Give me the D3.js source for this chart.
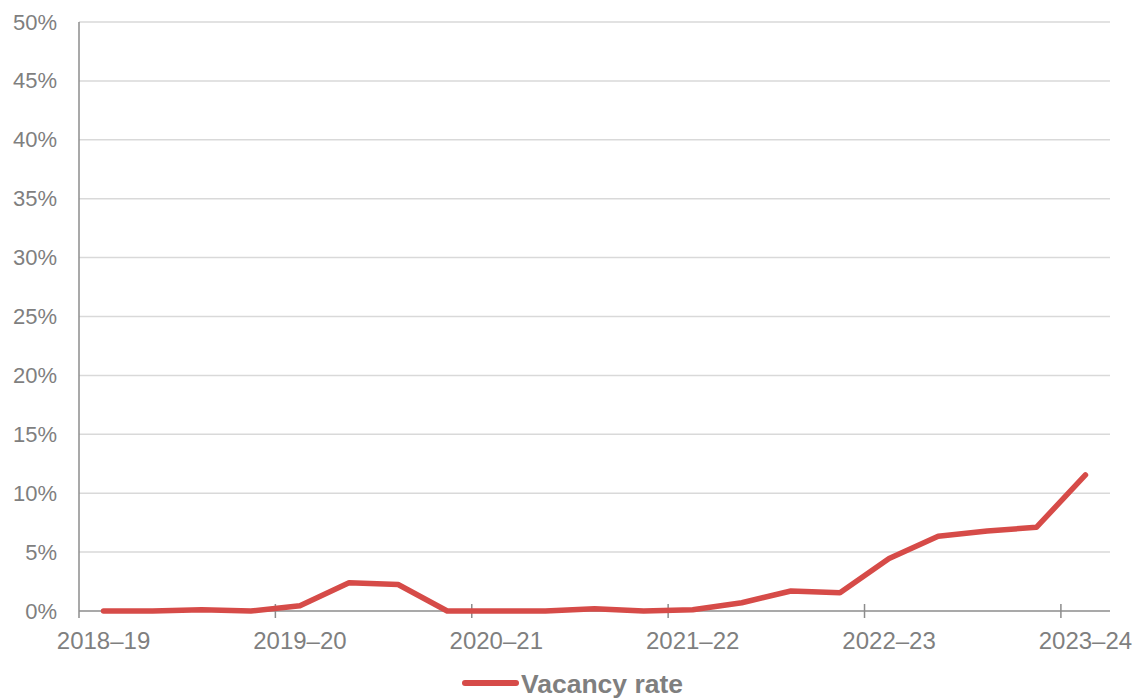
<!DOCTYPE html>
<html>
<head>
<meta charset="utf-8">
<script src="https://cdn.jsdelivr.net/npm/d3@7/dist/d3.min.js"></script>
<style>
  html, body { margin: 0; padding: 0; background: #ffffff; }
  svg { display: block; font-family: "Liberation Sans", Arial, sans-serif; }
</style>
</head>
<body>
<svg id="chart" width="1140" height="698"></svg>
<script>
// Quarterly vacancy rate, 2018–19 to 2023–24 (per cent)
const quarters = d3.range(21);
const yearLabels = ["2018–19", "2019–20", "2020–21", "2021–22", "2022–23", "2023–24"];
const vacancyRate = [0, 0, 0.1, 0, 0.45, 2.4, 2.25, 0, 0, 0, 0.2, 0, 0.1, 0.7, 1.7, 1.55, 4.45, 6.35, 6.8, 7.1, 11.55];
const yTicks = [0, 5, 10, 15, 20, 25, 30, 35, 40, 45, 50];
const seriesName = "Vacancy rate";

const margin = { left: 79, right: 30, top: 22, bottom: 87 };
const W = 1140, H = 698;
const svg = d3.select("#chart");

const x = d3.scaleBand().domain(quarters).range([margin.left, W - margin.right]).paddingInner(0).paddingOuter(0);
const y = d3.scaleLinear().domain([0, 50]).range([H - margin.bottom, margin.top]);

const grey = "#7f7f7f";
const red = "#d64b48";

// horizontal gridlines
svg.append("g")
  .selectAll("line")
  .data(yTicks.filter(d => d > 0))
  .join("line")
  .attr("x1", margin.left).attr("x2", W - margin.right)
  .attr("y1", d => y(d)).attr("y2", d => y(d))
  .attr("stroke", "#d9d9d9").attr("stroke-width", 1.5);

// y axis
const yAxis = svg.append("g")
  .attr("transform", `translate(${margin.left},0)`)
  .call(d3.axisLeft(y).tickValues(yTicks).tickFormat(d => d + "%").tickSize(0).tickPadding(22));
yAxis.select(".domain").attr("stroke", "#8c8c8c").attr("stroke-width", 1.5)
  .attr("d", `M0,${y(50)}V${y(0) + 7}`);
yAxis.selectAll("text").attr("fill", grey).attr("font-size", 22)
  .attr("font-family", "Liberation Sans, Arial, sans-serif");

// x axis: ticks at band boundaries every four quarters, labels on the first quarter of each year
const bw = x.bandwidth();
const xAxis = svg.append("g").attr("transform", `translate(0,${y(0)})`);
xAxis.append("line")
  .attr("x1", margin.left).attr("x2", W - margin.right)
  .attr("stroke", "#8c8c8c").attr("stroke-width", 1.5);
xAxis.selectAll("line.tick")
  .data(yearLabels.map((d, i) => i * 4).filter(i => i > 0))
  .join("line")
  .attr("class", "tick")
  .attr("x1", i => x(i)).attr("x2", i => x(i))
  .attr("y1", -7).attr("y2", 7)
  .attr("stroke", "#8c8c8c").attr("stroke-width", 1.5);
xAxis.selectAll("text")
  .data(yearLabels)
  .join("text")
  .attr("x", (d, i) => x(i * 4) + bw / 2)
  .attr("y", 38)
  .attr("text-anchor", "middle")
  .attr("fill", grey).attr("font-size", 24)
  .text(d => d);

// series line
const line = d3.line()
  .x((d, i) => x(quarters[i]) + bw / 2)
  .y(d => y(d));
svg.append("path")
  .datum(vacancyRate)
  .attr("d", line)
  .attr("fill", "none")
  .attr("stroke", red)
  .attr("stroke-width", 5.5)
  .attr("stroke-linejoin", "round")
  .attr("stroke-linecap", "round");

// legend
const legend = svg.append("g").attr("transform", "translate(0,683)");
legend.append("line")
  .attr("x1", 465).attr("x2", 516)
  .attr("stroke", red).attr("stroke-width", 6).attr("stroke-linecap", "round");
legend.append("text")
  .attr("x", 521).attr("y", 10)
  .attr("fill", grey).attr("font-size", 26.5).attr("font-weight", "bold")
  .text(seriesName);
</script>
</body>
</html>
